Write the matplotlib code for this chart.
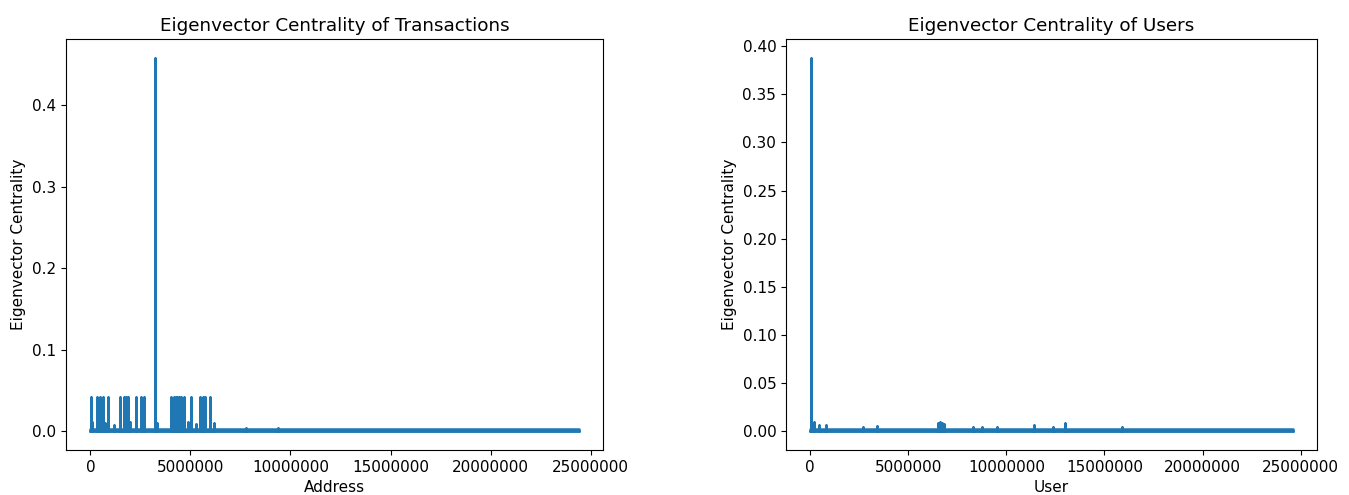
import matplotlib
matplotlib.use("Agg")
import matplotlib.pyplot as plt

# transactions graph: spikes (address in millions, centrality)
tx_spike_x = [0.03, 0.35, 0.48, 0.62, 0.90, 1.49, 1.69, 1.79, 1.90, 2.27, 2.54, 2.67,
              3.21, 4.04, 4.16, 4.27, 4.34, 4.41, 4.54, 4.66,
              5.04, 5.49, 5.61, 5.71, 5.99]
tx_spike_y = [0.042, 0.042, 0.042, 0.042, 0.042, 0.042, 0.042, 0.042, 0.042, 0.042, 0.042, 0.042,
              0.458, 0.042, 0.042, 0.042, 0.042, 0.042, 0.042, 0.042,
              0.042, 0.042, 0.042, 0.042, 0.042]
tx_bump_x = [0.10, 0.75, 1.20, 2.00, 3.35, 4.90, 5.30, 6.20, 7.80, 9.40]
tx_bump_y = [0.012, 0.010, 0.008, 0.012, 0.010, 0.012, 0.009, 0.010, 0.004, 0.004]
tx_end = 24.4

# users graph
user_spike_x = [0.05]
user_spike_y = [0.388]
user_bump_x = [0.20, 0.45, 0.80, 2.70, 3.40, 6.50, 6.60, 6.70, 6.80, 8.30, 8.75, 9.50,
               11.40, 12.40, 13.00, 15.90]
user_bump_y = [0.010, 0.007, 0.007, 0.004, 0.006, 0.009, 0.010, 0.009, 0.008, 0.005, 0.005, 0.004,
               0.007, 0.004, 0.009, 0.004]
user_end = 24.6

noise_floor = 0.0025


def build_series(sx, sy, bx, by, x_end):
    pts = sorted(list(zip(sx, sy)) + list(zip(bx, by)))
    x = [0.0]
    y = [0.0]
    for p, h in pts:
        x += [p * 1e6, p * 1e6, p * 1e6]
        y += [0.0, h, 0.0]
    x.append(x_end * 1e6)
    y.append(0.0)
    return x, y


plt.rcParams["font.size"] = 11
W, H = 1349, 495
fig = plt.figure(figsize=(W / 100, H / 100), dpi=100)
ax1 = fig.add_axes([66 / W, 45 / H, (603 - 66) / W, (450 - 39) / H])
ax2 = fig.add_axes([786 / W, 45 / H, (1317 - 786) / W, (450 - 39) / H])

x, y = build_series(tx_spike_x, tx_spike_y, tx_bump_x, tx_bump_y, tx_end)
ax1.plot(x, y, color="C0", lw=1.8)
ax1.fill_between([0, tx_end * 1e6], 0, noise_floor, color="C0", lw=1.8)
ax1.set_title("Eigenvector Centrality of Transactions", fontsize=13.2)
ax1.set_xlabel("Address")
ax1.set_ylabel("Eigenvector Centrality")
ax1.ticklabel_format(style="plain", axis="x")

x, y = build_series(user_spike_x, user_spike_y, user_bump_x, user_bump_y, user_end)
ax2.plot(x, y, color="C0", lw=1.8)
ax2.fill_between([0, user_end * 1e6], 0, noise_floor, color="C0", lw=1.8)
ax2.set_title("Eigenvector Centrality of Users", fontsize=13.2)
ax2.set_xlabel("User")
ax2.set_ylabel("Eigenvector Centrality")
ax2.ticklabel_format(style="plain", axis="x")

fig.savefig("out.png", dpi=100)
